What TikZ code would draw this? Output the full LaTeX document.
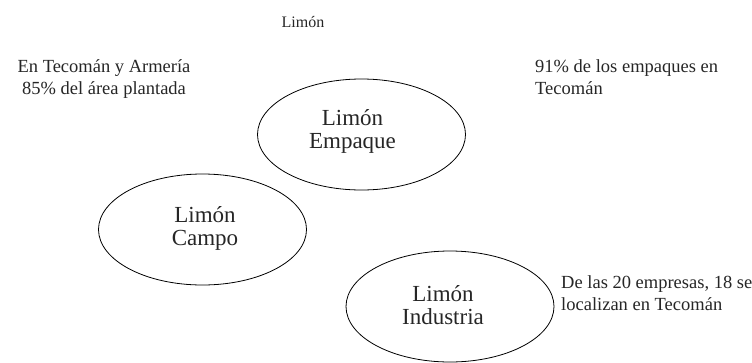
\documentclass[tikz,border=0pt]{standalone}
\usepackage{fontspec}
\setmainfont{Liberation Serif}
\usetikzlibrary{shapes.geometric}
\begin{document}
\begin{tikzpicture}[x=1pt,y=-1pt,
  oval/.style={draw, ellipse, line width=0.8pt, minimum width=208pt, minimum height=111pt, inner sep=0pt},
  ovaltext/.style={anchor=north, inner sep=0pt, align=center, font=\fontsize{23}{23.5}\selectfont, text=black!85},
  note/.style={anchor=north, inner sep=0pt, font=\fontsize{18.5}{22}\selectfont, text=black!85},
  titletext/.style={anchor=north, inner sep=0pt, font=\fontsize{16}{19}\selectfont, text=black!85}]
\useasboundingbox (0,0) rectangle (752,362);
% title
\node[titletext] (title) at (303,16) {Limón};
% ellipses
\node[oval] (emp) at (361.5,134.5) {};
\node[oval] (cam) at (202.5,229.5) {};
\node[oval] (ind) at (450,306.5) {};
% ellipse texts
\node[ovaltext] (empt) at (352.5,109) {Limón\\Empaque};
\node[ovaltext] (camt) at (205,206) {Limón\\Campo};
\node[ovaltext] (indt) at (443,285) {Limón\\Industria};
% notes
\node[note, align=center] (left) at (104,59.2) {En Tecomán y Armería\\85\% del área plantada};
\node[note, anchor=north west, align=left] (right) at (535,59.4) {91\% de los empaques en\\Tecomán};
\node[note, anchor=north west, align=left] (bottom) at (561,275.4) {De las 20 empresas, 18 se\\localizan en Tecomán};
\end{tikzpicture}
\end{document}
